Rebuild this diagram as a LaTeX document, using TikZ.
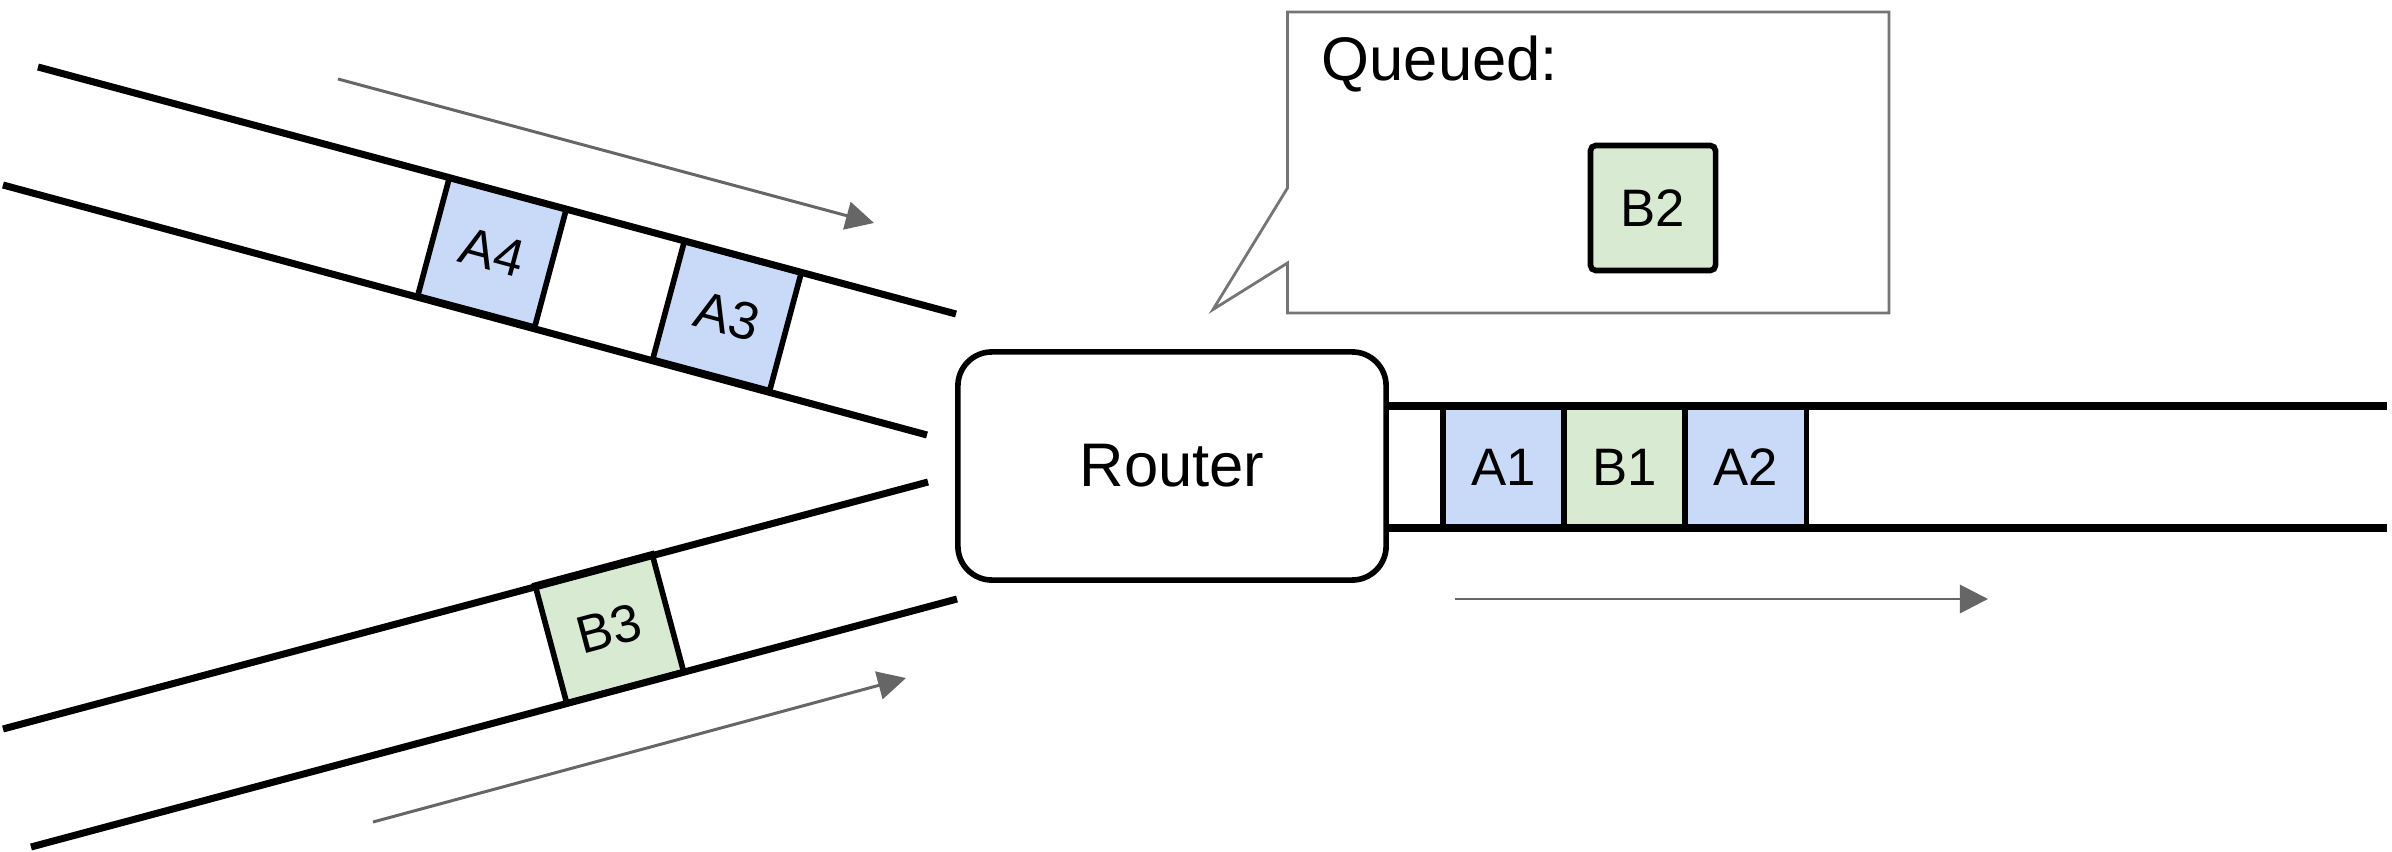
\documentclass[tikz,border=0pt]{standalone}
\usepackage{fontspec}
\setmainfont{Liberation Sans}
\usetikzlibrary{arrows.meta}
\definecolor{pktblue}{HTML}{C9DAF8}
\definecolor{pktgreen}{HTML}{D9EAD3}
\definecolor{arrgray}{HTML}{666666}
\definecolor{callgray}{HTML}{757575}
\tikzset{
  pipe/.style={line width=2pt},
  pkt/.style={draw, line width=1.6pt, minimum width=1.21cm, minimum height=1.22cm, inner sep=0pt, font=\fontsize{15}{18}\selectfont},
  apkt/.style={pkt, fill=pktblue},
  bpkt/.style={pkt, fill=pktgreen},
  flow/.style={draw=arrgray, line width=0.85pt, -{Triangle[length=8pt,width=8pt]}, arrgray},
  callout/.style={draw=callgray, line width=0.8pt},
  routerbox/.style={draw, line width=1.6pt, rounded corners=0.34cm, minimum width=4.28cm, minimum height=2.28cm, font=\fontsize{17.5}{21}\selectfont}
}
\begin{document}
\begin{tikzpicture}[x=0.01cm,y=-0.01cm]
\useasboundingbox (0,0) rectangle (2392,852);
% packets on incoming pipes
\node[apkt, rotate=-15] (a4) at (492,252.5) {A4};
\node[apkt, rotate=-15] (a3) at (727,316) {A3};
\node[bpkt, rotate=15] (b3) at (609.4,628.5) {B3};
% top incoming pipe
\draw[pipe] (38,67) -- (956,314);
\draw[pipe] (3,185) -- (927,435);
% bottom incoming pipe
\draw[pipe] (3,729) -- (928,482);
\draw[pipe] (31,847) -- (957,599);
% router
\node[routerbox] (router) at (1172,466) {Router};
% outgoing pipe packets
\node[apkt] (a1) at (1503.5,467) {A1};
\node[bpkt] (b1) at (1624.5,467) {B1};
\node[apkt] (a2) at (1746,467) {A2};
\coordinate (outend1) at (2387,406);
\coordinate (outend2) at (2387,528);
\draw[pipe] (router.east |- outend1) -- (outend1);
\draw[pipe] (router.east |- outend2) -- (outend2);
% callout
\draw[callout] (1287.5,12) -- (1889,12) -- (1889,313) -- (1287.5,313) -- (1287.5,263) -- (1213,309.5) -- (1287.5,188) -- cycle;
\node[anchor=base west, inner sep=0pt, font=\fontsize{17.5}{21}\selectfont] (queued) at (1321,81) {Queued:};
\node[bpkt, rounded corners=1.5pt, minimum width=1.25cm, minimum height=1.25cm] (b2) at (1653,208) {B2};
% flow arrows
\coordinate (t1) at (338,79);
\coordinate (t2) at (874,223);
\coordinate (u1) at (373,822);
\coordinate (u2) at (906,678);
\coordinate (r1) at (1455,599);
\coordinate (r2) at (1988,599);
\draw[flow] (t1) -- (t2);
\draw[flow] (u1) -- (u2);
\draw[flow] (r1) -- (r2);
\end{tikzpicture}
\end{document}
